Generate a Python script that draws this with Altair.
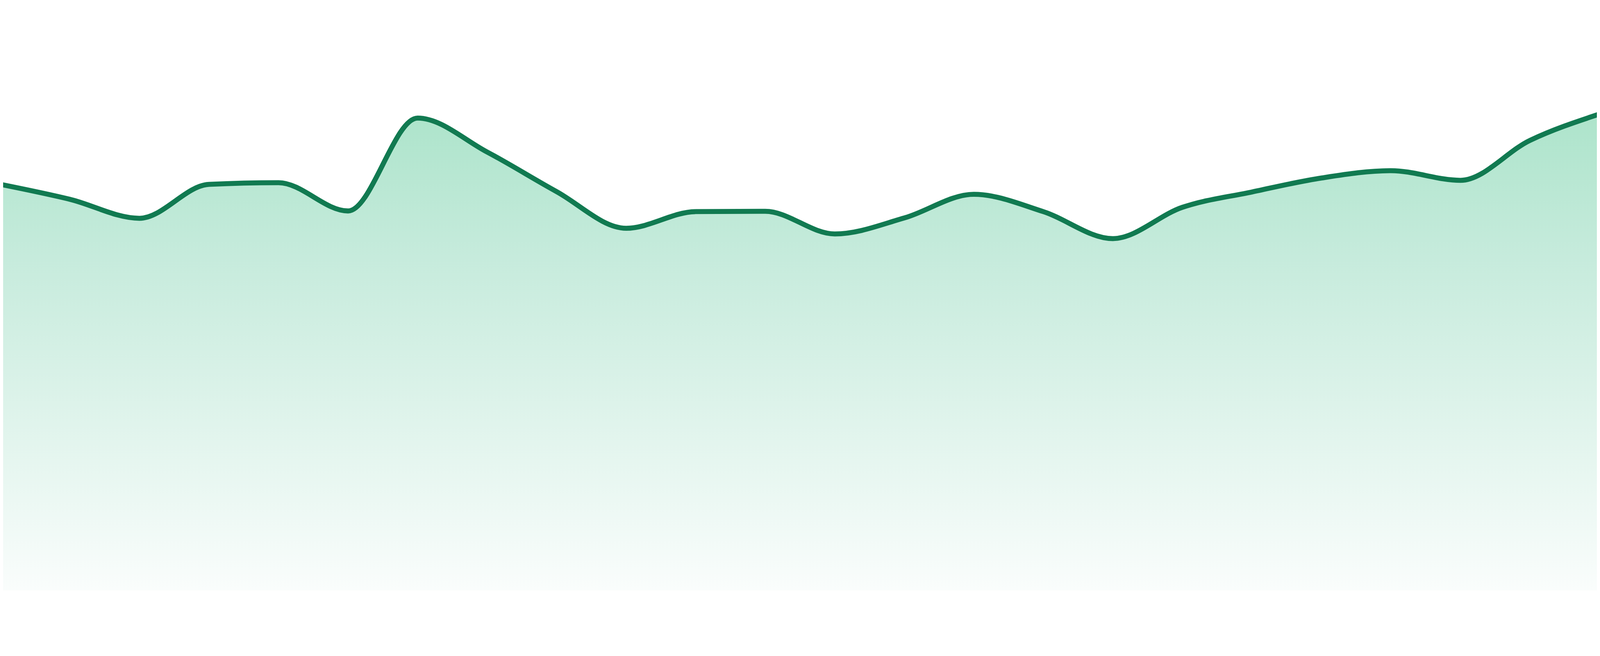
import altair as alt
import pandas as pd

# 24 evenly spaced samples (index 0..23)
idx = list(range(24))
values = [122.0, 117.5, 111.8, 122.0, 122.5, 114.0, 141.9, 131.7,
          119.8, 108.8, 113.8, 113.9, 107.1, 111.9, 119.0, 113.8,
          105.7, 115.1, 119.7, 123.9, 126.1, 123.2, 135.2, 143.1]

df = pd.DataFrame({"i": idx, "v": values})

LINE = "#117a51"
x_enc = alt.X("i:Q", axis=None,
              scale=alt.Scale(domain=[0.0383, 22.9617], nice=False, zero=False))
y_enc = alt.Y("v:Q", axis=None,
              scale=alt.Scale(domain=[0, 162.4], nice=False, zero=True))

area = alt.Chart(df).mark_area(
    interpolate="monotone",
    clip=True,
    color=alt.Gradient(
        gradient="linear",
        stops=[
            alt.GradientStop(color="#ade4cb", offset=0),
            alt.GradientStop(color="#c6ebdc", offset=0.3),
            alt.GradientStop(color="#fafdfc", offset=1),
        ],
        x1=1, x2=1, y1=0, y2=1,
    ),
).encode(x=x_enc, y=y_enc)

line = alt.Chart(df).mark_line(
    interpolate="monotone",
    clip=True,
    color=LINE,
    strokeWidth=15,
).encode(x=x_enc, y=y_enc)

chart = alt.layer(area, line).properties(
    width=4784,
    height=1624,
    padding=0,
    autosize=alt.AutoSizeParams(type="none"),
    background="white",
).configure_view(stroke=None)

chart.save("out.html", embed_options={"renderer": "svg", "actions": False})
